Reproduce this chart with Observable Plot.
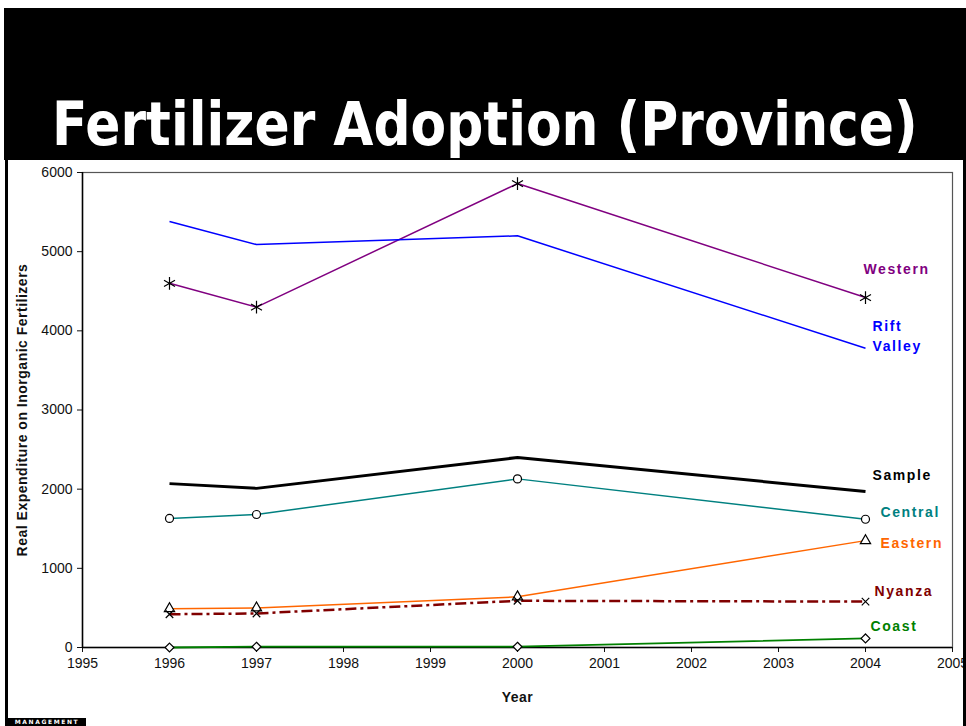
<!DOCTYPE html>
<html>
<head>
<meta charset="utf-8">
<script src="https://cdn.jsdelivr.net/npm/d3@7"></script>
<script src="https://cdn.jsdelivr.net/npm/@observablehq/plot@0.6"></script>
<style>
  html, body { margin: 0; padding: 0; background: #fff; }
  #slide { position: relative; width: 966px; height: 726px; overflow: hidden; background: #fff; }
  #header { position: absolute; left: 0; top: 0; }
  #chart { position: absolute; left: 0; top: 160px; }
  .bar { position: absolute; background: #000; }
  #badge {
    position: absolute; left: 8px; top: 718px; width: 78px; height: 8px; background: #000;
    color: #fff; font: bold 6px "DejaVu Sans", sans-serif; letter-spacing: 1.6px;
    line-height: 8px; text-align: center; overflow: hidden;
  }
</style>
</head>
<body>
<div id="slide">
  <div id="header"></div>
  <div id="chart"></div>
  <div class="bar" style="left:5px;top:160px;width:3px;height:566px"></div>
  <div class="bar" style="left:963px;top:160px;width:3px;height:566px"></div>
  <div id="badge">MANAGEMENT</div>
</div>
<script>
// Survey years and real expenditure on inorganic fertilizers by province
const years = [1996, 1997, 2000, 2004];
const western = [4600, 4300, 5860, 4420];
const riftValley = [5380, 5090, 5200, 3780];
const sample = [2070, 2010, 2400, 1970];
const central = [1630, 1680, 2130, 1620];
const eastern = [490, 500, 640, 1350];
const nyanza = [420, 430, 590, 580];
const coast = [0, 10, 10, 115];

const seriesNames = ["Western", "Rift Valley", "Sample", "Central", "Eastern", "Nyanza", "Coast"];
const seriesValues = [western, riftValley, sample, central, eastern, nyanza, coast];

const yearTicks = [1995, 1996, 1997, 1998, 1999, 2000, 2001, 2002, 2003, 2004, 2005];
const valueTicks = [0, 1000, 2000, 3000, 4000, 5000, 6000];

const titleText = "Fertilizer Adoption (Province)";
const xLabel = "Year";
const yLabel = "Real Expenditure on Inorganic Fertilizers";

// Drawing style of each series: line, marker and end label placement
const look = {
  "Western":     {color: "#800080", width: 1.5, symbol: "asterisk", r: 6,   dx: -2, dy: -30, labelText: "Western"},
  "Rift Valley": {color: "#0000ff", width: 1.5, symbol: null,                dx: 7,  dy: -14, labelText: "Rift\nValley"},
  "Sample":      {color: "#000000", width: 3,   symbol: null,                dx: 7,  dy: -18, labelText: "Sample"},
  "Central":     {color: "#008080", width: 1.5, symbol: "circle",   r: 4,   dx: 15, dy: -9,  labelText: "Central"},
  "Eastern":     {color: "#ff6600", width: 1.5, symbol: "triangle", r: 3.8, dx: 15, dy: 1,   labelText: "Eastern"},
  "Nyanza":      {color: "#800000", width: 2.5, symbol: "times",    r: 3.5, dx: 9,  dy: -12, labelText: "Nyanza", dash: "11,4,3,4"},
  "Coast":       {color: "#008000", width: 1.8, symbol: "diamond2", r: 4,   dx: 5,  dy: -14, labelText: "Coast"}
};

const rows = seriesNames.flatMap((name, i) =>
  years.map((year, j) => ({series: name, year, value: seriesValues[i][j]}))
);

// Header band with the slide title, squeezed horizontally to the band width
const header = d3.select("#header").append("svg")
  .attr("width", 966).attr("height", 160);
header.append("rect").attr("x", 4).attr("y", 8).attr("width", 962).attr("height", 152).attr("fill", "#000");
const title = header.append("text")
  .attr("x", 0).attr("y", 0)
  .attr("fill", "#fff")
  .attr("font-family", "DejaVu Sans, Verdana, sans-serif")
  .attr("font-weight", "bold")
  .attr("font-size", 60)
  .text(titleText);
const natural = title.node().getComputedTextLength() || 1;
title.attr("transform", `translate(52,145) scale(${866 / natural},1)`);

const marks = [
  Plot.frame({stroke: "#555", strokeWidth: 1.2}),
  Plot.axisX({ticks: yearTicks, tickFormat: d => String(d), tickSize: 5, tickPadding: 6, label: null, fontSize: 14}),
  Plot.axisY({ticks: valueTicks, tickFormat: d => String(d), tickSize: 5, tickPadding: 5, label: null, fontSize: 14}),
  Plot.ruleY([0], {stroke: "#000", strokeWidth: 1.5}),
  Plot.ruleX([1995], {stroke: "#000", strokeWidth: 1.5}),
  Plot.text([xLabel], {frameAnchor: "bottom", lineAnchor: "middle", dy: 50, fontWeight: "bold", fontSize: 14}),
  Plot.text([yLabel], {frameAnchor: "left", rotate: -90, textAnchor: "middle", lineAnchor: "middle", dx: -60, fontWeight: "bold", fontSize: 14})
];

for (const name of seriesNames) {
  const s = look[name];
  const data = rows.filter(d => d.series === name);
  marks.push(Plot.line(data, {
    x: "year", y: "value", stroke: s.color, strokeWidth: s.width,
    strokeDasharray: s.dash, strokeLinejoin: "miter", strokeLinecap: "butt"
  }));
}
for (const name of seriesNames) {
  const s = look[name];
  if (!s.symbol) continue;
  const data = rows.filter(d => d.series === name);
  marks.push(Plot.dot(data, {
    x: "year", y: "value", symbol: s.symbol, r: s.r,
    stroke: "#000", strokeWidth: 1.2, fill: s.symbol === "asterisk" || s.symbol === "times" ? "none" : "#fff"
  }));
}
for (const name of seriesNames) {
  const s = look[name];
  const last = rows.filter(d => d.series === name).at(-1);
  marks.push(Plot.text([last], {
    x: "year", y: "value", text: () => s.labelText, textAnchor: "start",
    dx: s.dx, dy: s.dy, fill: s.color, fontWeight: "bold", fontSize: 14,
    lineHeight: 1.45
  }));
}

const chart = Plot.plot({
  width: 966,
  height: 566,
  marginTop: 12,
  marginRight: 14,
  marginBottom: 79,
  marginLeft: 82,
  x: {domain: [1995, 2005]},
  y: {domain: [0, 6000]},
  style: {fontFamily: "'Liberation Sans', Arial, sans-serif", fontSize: "14px", color: "#111", background: "#fff"},
  marks
});

// Wider tracking on the series names and the axis titles
const labelWords = new Set(seriesNames.flatMap(n => look[n].labelText.split("\n")));
d3.select(chart).selectAll("text, tspan").each(function() {
  const t = this.textContent;
  if (this.tagName === "text" && this.querySelector("tspan")) return;
  if (labelWords.has(t)) this.setAttribute("letter-spacing", "1.6");
  else if (t === yLabel || t === xLabel) this.setAttribute("letter-spacing", "0.5");
});
document.getElementById("chart").appendChild(chart);
</script>
</body>
</html>
